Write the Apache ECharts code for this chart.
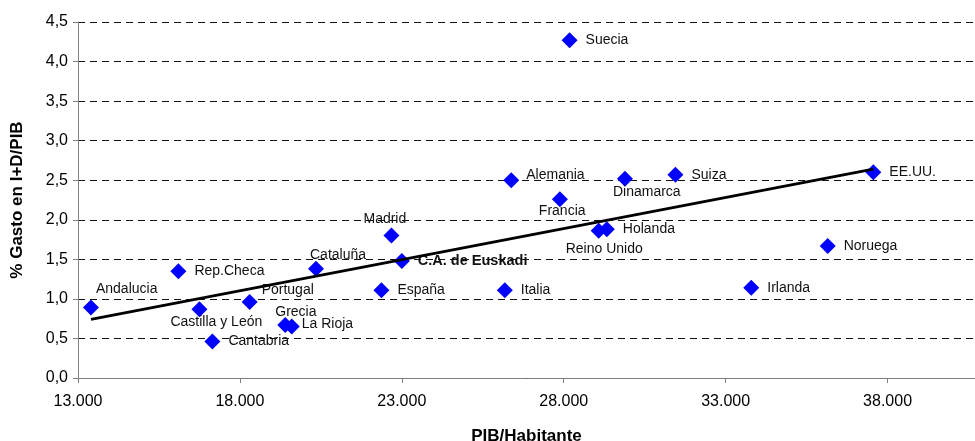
<!DOCTYPE html>
<html>
<head>
<meta charset="utf-8">
<script src="https://cdn.jsdelivr.net/npm/echarts@6/dist/echarts.min.js"></script>
<style>
html,body{margin:0;padding:0;background:#fff;}
#chart{width:975px;height:441px;}
</style>
</head>
<body>
<div id="chart"></div>
<script>
// ---- data ----
const regions = ["Andalucia","Rep.Checa","Castilla y León","Cantabria","Portugal","Grecia","La Rioja","Cataluña","Madrid","C.A. de Euskadi","España","Italia","Reino Unido","Holanda","Suecia","Alemania","Dinamarca","Francia","Suiza","EE.UU.","Noruega","Irlanda"];
const pibHabitante = [13400,16100,16750,17150,18300,19400,19600,20350,22680,23000,22370,26180,29080,29330,28180,26380,29890,27880,31450,37560,36150,33790];
const gastoID = [0.89,1.35,0.87,0.46,0.96,0.67,0.65,1.38,1.80,1.48,1.11,1.11,1.86,1.88,4.27,2.50,2.52,2.26,2.57,2.60,1.67,1.14];
const trendX = [13400, 37560];
const trendY = [0.74, 2.64];
const xTickValues = [13000,18000,23000,28000,33000,38000];

// ---- label placement (style only) ----
const labelOffsets = {
  "Andalucia": [-11, -18],
  "Castilla y León": [-45, 13],
  "Portugal": [-4, -12],
  "Grecia": [-26, -13],
  "La Rioja": [-6, -2],
  "Cataluña": [-22, -14],
  "Madrid": [-44, -16],
  "Reino Unido": [-49, 18],
  "Dinamarca": [-28, 14],
  "Francia": [-37, 12],
  "Alemania": [-1, -5]
};

const FONT = "'Liberation Sans', Arial, sans-serif";

const points = regions.map((n, i) => {
  const item = { name: n, value: [pibHabitante[i], gastoID[i]] };
  const lab = {};
  if (labelOffsets[n]) lab.offset = labelOffsets[n];
  if (n === "C.A. de Euskadi") { lab.fontWeight = "bold"; lab.fontSize = 14.5; }
  item.label = lab;
  return item;
});

const chart = echarts.init(document.getElementById('chart'), null, {renderer: 'canvas'});
chart.setOption({
  animation: false,
  backgroundColor: '#fff',
  grid: { left: 78, right: 0, top: 22, bottom: 63, containLabel: false, outerBoundsMode: 'none' },
  xAxis: {
    type: 'value',
    min: 13000, max: 40700, interval: 5000,
    name: 'PIB/Habitante',
    nameLocation: 'middle',
    nameGap: 50,
    nameTextStyle: { fontFamily: FONT, fontWeight: 'bold', fontSize: 17, color: '#000' },
    axisLine: { show: true, lineStyle: { color: '#808080', width: 1 } },
    axisTick: { show: true, length: 5, customValues: xTickValues, lineStyle: { color: '#808080' } },
    axisLabel: {
      customValues: xTickValues,
      margin: 16,
      fontFamily: FONT, fontSize: 16, color: '#000',
      formatter: v => String(v).replace(/\B(?=(\d{3})+(?!\d))/g, '.')
    },
    splitLine: { show: false }
  },
  yAxis: {
    type: 'value',
    min: 0, max: 4.5, interval: 0.5,
    name: '% Gasto en I+D/PIB',
    nameLocation: 'middle',
    nameGap: 52,
    nameTextStyle: { fontFamily: FONT, fontWeight: 'bold', fontSize: 17, color: '#000' },
    axisLine: { show: true, lineStyle: { color: '#808080', width: 1 } },
    axisTick: { show: true, length: 5, lineStyle: { color: '#808080' } },
    axisLabel: {
      margin: 10,
      fontFamily: FONT, fontSize: 16, color: '#000',
      formatter: v => v.toFixed(1).replace('.', ',')
    },
    splitLine: { show: true, lineStyle: { color: '#111', width: 1, type: [7, 5] } }
  },
  series: [
    {
      type: 'scatter',
      symbol: 'diamond',
      symbolSize: 16,
      itemStyle: { color: '#0000FF', opacity: 1 },
      label: {
        show: true,
        position: 'right',
        distance: 8,
        formatter: '{b}',
        fontFamily: FONT, fontSize: 14, color: '#111'
      },
      emphasis: { disabled: true },
      data: points,
      z: 2
    },
    {
      type: 'line',
      data: trendX.map((x, i) => [x, trendY[i]]),
      symbol: 'none',
      lineStyle: { color: '#000', width: 2.8 },
      silent: true,
      z: 3
    }
  ]
});
</script>
</body>
</html>
